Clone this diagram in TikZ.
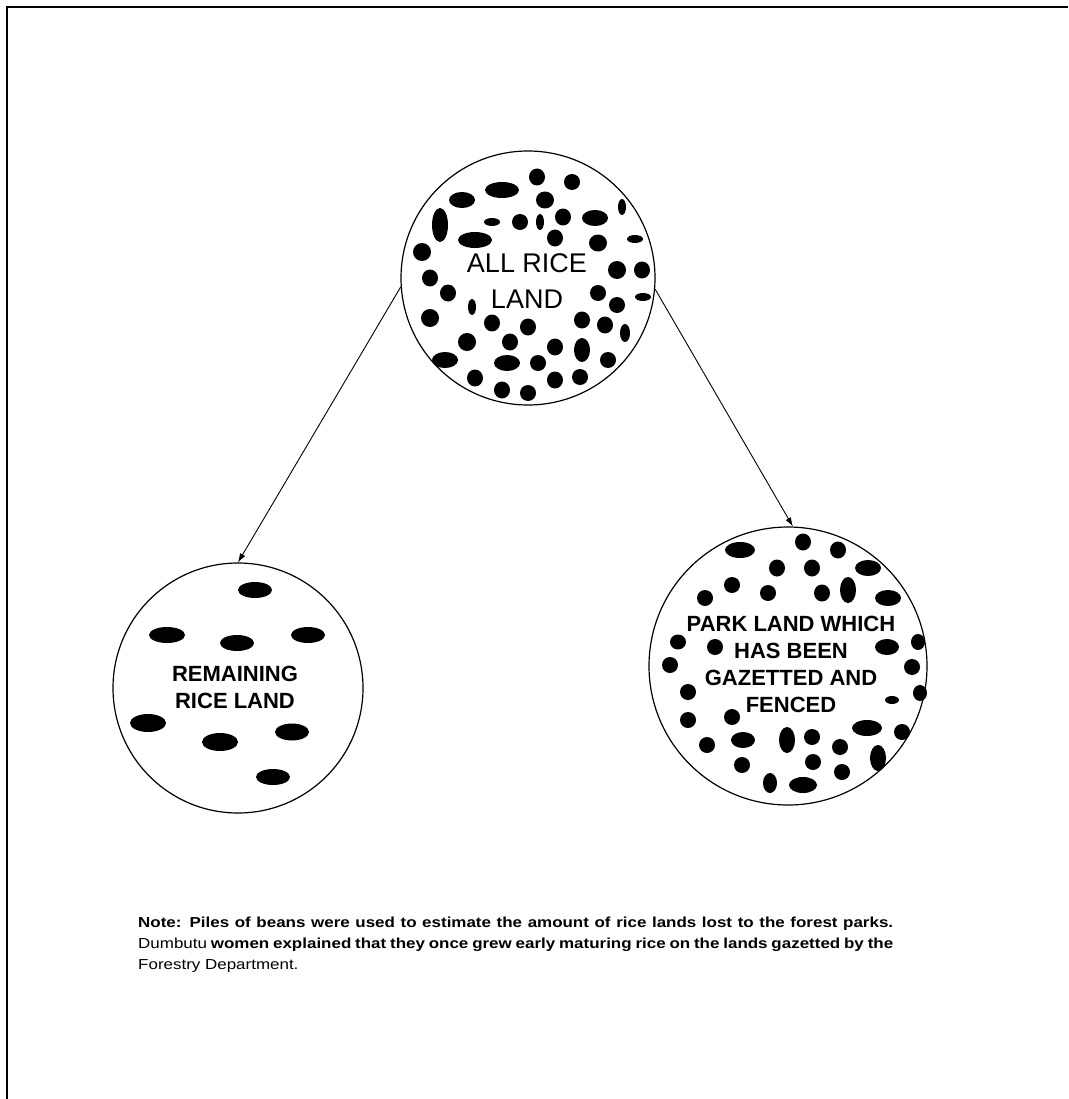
\documentclass[tikz,border=0pt]{standalone}
\usepackage{fontspec}
\setmainfont{Liberation Sans}
\newfontfamily\notefont[FakeStretch=1.17]{Liberation Sans}
\usetikzlibrary{arrows.meta}
\begin{document}
\begin{tikzpicture}[x=1pt,y=-1pt,
  landcircle/.style={circle,draw,line width=1.2pt,inner sep=0pt},
  conn/.style={line width=0.9pt,-{Latex[length=9pt,width=6pt]}},
  circtext/.style={font=\fontsize{22}{27}\selectfont\bfseries,align=center,inner sep=0pt},
  bean/.style={fill=black}]
\useasboundingbox (0,0) rectangle (1068,1099);
\fill[white] (0,0) rectangle (1068,1099);
% frame (left and top edges)
\draw[line width=2.5pt] (7,1099) -- (7,7) -- (1068,7);
% circles
\node[landcircle,minimum size=254pt] (top) at (528,278) {};
\node[landcircle,minimum size=250pt] (left) at (238,688) {};
\node[landcircle,minimum size=278pt] (right) at (788,666) {};
% beans in top circle
\foreach \x/\y/\a/\b in {537/177/8/8.5,572/182/8/8,502/190/17/8,462/200/13/8,545/200/9/8.5,622/207/4/8,
  440/225/8/17,492/222/8/4,520/222/8/8,540/222/4/8,563/217/8/8.5,595/218/13/8,
  475/240/17/8,555/238/8/8.5,598/243/9/8.5,635/239/8/4,422/252/9/9,
  617/270/9/9,642/270/8/8.5,430/278/8/8.5,448/293/8/8.5,472/307/4/8,598/293/8/8,617/305/8/8,643/297/8/4,
  430/318/9/9,492/323/8/8.5,528/327/8/8.5,582/320/8/8.5,605/325/8/8.5,625/333/5/9,
  467/342/9/9,510/342/8/8.5,555/347/8/8.5,582/350/8/12,445/360/13/8,507/363/13/8,538/363/8/8,608/360/8/8,
  475/378/8/8.5,555/380/8/8.5,580/377/8/8,502/390/8/8.5,528/393/8/8}
  \fill[bean] (\x,\y) ellipse [x radius=\a pt, y radius=\b pt];
% beans in left circle
\foreach \x/\y/\a/\b in {255/590/17/8,167/635/18/8,237/643/17/8,308/635/17/8,
  148/723/18/9,220/742/18/9,292/732/17/8.5,273/777/17/8}
  \fill[bean] (\x,\y) ellipse [x radius=\a pt, y radius=\b pt];
% beans in right circle
\foreach \x/\y/\a/\b in {740/550/15/8,803/542/8/8.5,838/550/8/8.5,777/568/8/8.5,812/568/8/8.5,868/568/13/8,
  732/585/8/8,768/593/8/8,822/593/8/8.5,848/590/8/13,888/598/13/8,705/598/8/8,
  678/642/8/7.5,715/647/8/8,887/647/12/8,918/642/7/8,670/665/8/8,912/667/8/8,
  688/692/8/8,892/700/7/4,920/693/7/8,688/720/8/8,732/717/8/8,867/728/15/8,902/732/8/8,
  707/745/8/8,743/740/12/8,787/740/8/13,812/737/8/8,840/747/8/8,878/758/8/13,
  742/765/8/8,813/762/8/8,842/772/8/8,770/783/7/10,803/785/14/8}
  \fill[bean] (\x,\y) ellipse [x radius=\a pt, y radius=\b pt];
% circle labels
\node[font=\fontsize{27}{36}\selectfont,align=center,inner sep=0pt] (toplabel) at (527,281) {ALL RICE\\LAND};
\node[circtext] (leftlabel) at (235,687) {REMAINING\\RICE LAND};
\node[circtext] (rightlabel) at (791,664) {PARK LAND WHICH\\HAS BEEN\\GAZETTED AND\\FENCED};
% connectors
\draw[conn] (top.184) -- (left.north);
\draw[conn] (top.355) -- (right.88);
% note
\node[anchor=north west,inner sep=0pt,align=left,
  font=\notefont\fontsize{14.5}{21}\selectfont] (note) at (138,917)
  {\makebox[755pt][s]{\textbf{Note: Piles of beans were used to estimate the amount of rice lands lost to the forest parks.}}\\
   \makebox[755pt][s]{Dumbutu \textbf{women explained that they once grew early maturing rice on the lands gazetted by the}}\\
   Forestry Department.};
\end{tikzpicture}
\end{document}
